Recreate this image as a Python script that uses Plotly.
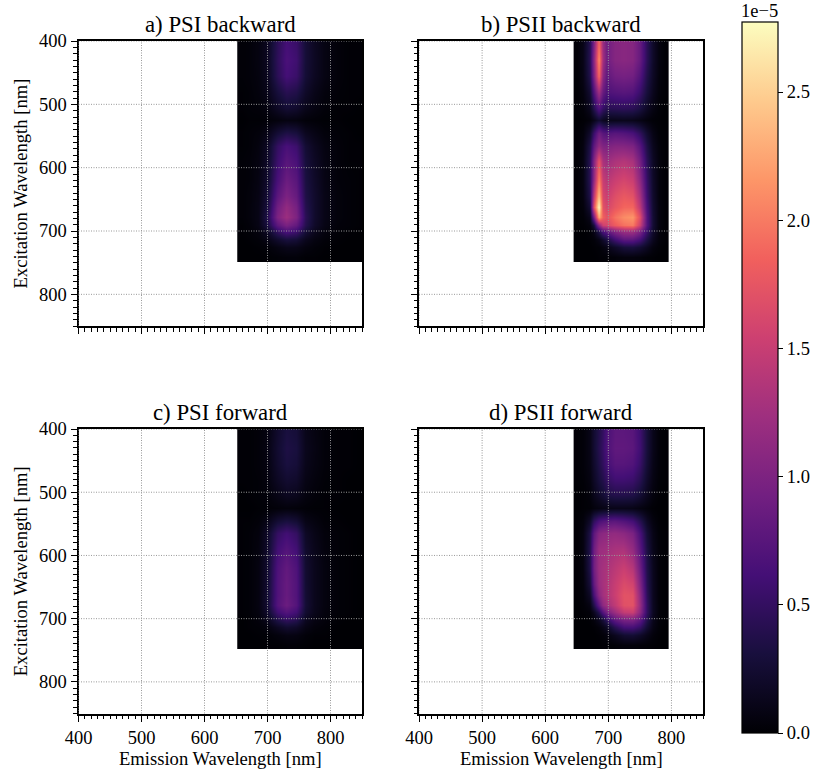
import plotly.graph_objects as go

excitation = [405, 430, 455, 480, 505, 525, 545, 565, 590, 620, 645, 662, 678, 690, 700, 713, 726, 741]
emission_psi = [658, 670, 685, 700, 715, 730, 745, 760, 775, 790, 810, 830, 845]
emission_psii = [650, 660, 670, 677, 684, 691, 698, 710, 725, 738, 750, 760, 770, 780, 790]

psi_backward = [
    [.02, .03, .07, .16, .44, .62, .54, .28, .16, .08, .03, .01, .01],
    [.02, .03, .07, .16, .46, .66, .58, .28, .17, .08, .03, .01, .01],
    [.02, .03, .06, .15, .44, .62, .54, .27, .16, .08, .03, .01, .01],
    [.01, .02, .05, .12, .30, .42, .37, .20, .11, .05, .02, .01, .01],
    [.01, .02, .03, .07, .18, .26, .22, .12, .07, .03, .01, .01, 0],
    [0, .01, .01, .03, .05, .07, .06, .03, .02, .01, .01, 0, 0],
    [.01, .02, .04, .11, .27, .36, .31, .15, .09, .04, .02, .01, 0],
    [.01, .02, .06, .18, .50, .65, .56, .26, .15, .07, .03, .01, .01],
    [.02, .03, .07, .20, .56, .75, .65, .30, .18, .08, .03, .01, .01],
    [.02, .03, .08, .23, .65, .88, .75, .33, .20, .09, .03, .02, .01],
    [.02, .04, .09, .28, .78, 1.0, .84, .36, .22, .10, .04, .02, .01],
    [.02, .04, .10, .32, .92, 1.15, .95, .40, .22, .10, .04, .02, .01],
    [.02, .04, .10, .38, 1.00, 1.22, 1.00, .44, .22, .10, .04, .02, .01],
    [.01, .03, .09, .33, .78, .98, .82, .40, .20, .09, .03, .02, .01],
    [.01, .02, .06, .19, .50, .68, .58, .29, .14, .06, .02, .01, 0],
    [0, .01, .03, .10, .23, .32, .28, .14, .07, .03, .01, 0, 0],
    [0, 0, .01, .03, .08, .12, .11, .06, .03, .01, 0, 0, 0],
    [0, 0, 0, .01, .02, .03, .03, .01, .01, 0, 0, 0, 0],
]

psi_forward = [
    [.01, .01, .03, .07, .22, .32, .28, .12, .07, .03, .01, .01, 0],
    [.01, .01, .03, .08, .24, .35, .31, .13, .08, .03, .01, .01, 0],
    [.01, .01, .03, .07, .22, .32, .28, .12, .07, .03, .01, .01, 0],
    [.01, .01, .02, .06, .17, .24, .21, .09, .05, .02, .01, 0, 0],
    [0, .01, .02, .04, .10, .15, .13, .06, .03, .01, .01, 0, 0],
    [0, 0, .01, .02, .03, .04, .03, .02, .01, .01, 0, 0, 0],
    [.01, .01, .03, .11, .26, .32, .26, .10, .06, .02, .01, 0, 0],
    [.01, .02, .05, .20, .50, .60, .50, .18, .10, .04, .02, .01, 0],
    [.01, .02, .06, .22, .60, .72, .60, .22, .12, .05, .02, .01, 0],
    [.01, .02, .07, .24, .68, .82, .68, .24, .13, .06, .02, .01, 0],
    [.01, .02, .07, .25, .70, .85, .70, .25, .13, .06, .02, .01, 0],
    [.01, .02, .07, .26, .70, .85, .70, .26, .13, .06, .02, .01, 0],
    [.01, .02, .07, .26, .72, .88, .72, .27, .13, .06, .02, .01, 0],
    [.01, .02, .06, .22, .58, .72, .60, .24, .12, .05, .02, .01, 0],
    [0, .01, .04, .14, .38, .50, .42, .16, .08, .04, .01, 0, 0],
    [0, .01, .02, .06, .16, .24, .20, .09, .04, .02, 0, 0, 0],
    [0, 0, .01, .02, .05, .08, .07, .03, .01, .01, 0, 0, 0],
    [0, 0, 0, .01, .01, .02, .02, .01, 0, 0, 0, 0, 0],
]

psii_backward = [
    [.02, .10, .40, 1.00, 1.90, 1.20, .90, 1.05, 1.08, 1.05, .85, .45, .20, .06, .01],
    [.02, .10, .42, 1.10, 2.10, 1.25, .90, 1.05, 1.08, 1.05, .85, .45, .20, .06, .01],
    [.02, .09, .38, 1.00, 1.90, 1.10, .80, .92, .95, .92, .72, .38, .18, .05, .01],
    [.01, .06, .25, .70, 1.25, .85, .68, .72, .75, .72, .55, .30, .14, .04, .01],
    [.01, .03, .14, .40, .72, .52, .42, .44, .46, .44, .34, .18, .08, .02, 0],
    [0, .01, .04, .12, .25, .16, .12, .12, .13, .12, .09, .05, .02, .01, 0],
    [.01, .04, .22, .55, .90, .75, .70, .75, .72, .65, .48, .24, .09, .02, .01],
    [.01, .06, .35, .80, 1.15, 1.02, 1.00, 1.05, 1.05, 1.00, .75, .36, .14, .04, .01],
    [.01, .07, .42, 1.05, 1.75, 1.30, 1.22, 1.32, 1.38, 1.30, .95, .45, .18, .05, .01],
    [.01, .07, .42, 1.15, 2.05, 1.50, 1.40, 1.52, 1.60, 1.52, 1.12, .52, .20, .05, .01],
    [.01, .06, .36, 1.45, 2.40, 1.62, 1.52, 1.68, 1.78, 1.72, 1.30, .58, .22, .05, .01],
    [.01, .04, .25, 1.70, 2.77, 1.72, 1.60, 1.76, 1.88, 1.88, 1.45, .65, .24, .06, .01],
    [.01, .02, .12, .95, 2.30, 1.85, 1.72, 1.95, 2.10, 2.15, 1.70, .72, .26, .06, .01],
    [0, .01, .05, .30, 1.10, 1.55, 1.60, 1.80, 1.95, 2.00, 1.55, .72, .26, .06, .01],
    [0, 0, .02, .10, .38, .68, .80, 1.05, 1.22, 1.25, 1.02, .55, .22, .05, .01],
    [0, 0, .01, .03, .10, .22, .35, .60, .80, .80, .65, .36, .15, .04, .01],
    [0, 0, 0, .01, .02, .06, .10, .20, .30, .32, .26, .16, .06, .02, 0],
    [0, 0, 0, 0, .01, .01, .02, .03, .05, .05, .04, .02, .01, 0, 0],
]

psii_forward = [
    [.01, .03, .10, .25, .38, .50, .66, .78, .78, .75, .58, .30, .12, .03, .01],
    [.01, .03, .10, .25, .40, .52, .68, .80, .80, .77, .60, .30, .12, .03, .01],
    [.01, .03, .09, .22, .36, .48, .62, .74, .74, .70, .54, .27, .10, .03, .01],
    [.01, .02, .07, .18, .30, .38, .50, .58, .58, .55, .42, .21, .08, .02, .01],
    [0, .01, .04, .12, .20, .26, .34, .38, .38, .36, .27, .14, .05, .01, 0],
    [0, .01, .02, .05, .07, .09, .10, .11, .11, .10, .07, .04, .01, 0, 0],
    [.01, .04, .20, .48, .66, .72, .75, .78, .72, .62, .42, .18, .06, .01, 0],
    [.01, .06, .35, .78, 1.05, 1.10, 1.12, 1.15, 1.10, .98, .66, .28, .10, .02, .01],
    [.01, .06, .38, .90, 1.20, 1.22, 1.25, 1.30, 1.32, 1.15, .78, .34, .12, .03, .01],
    [.01, .05, .36, .92, 1.22, 1.28, 1.32, 1.42, 1.52, 1.38, .92, .38, .14, .03, .01],
    [.01, .04, .28, .82, 1.20, 1.28, 1.35, 1.50, 1.65, 1.58, 1.05, .42, .15, .03, .01],
    [.01, .03, .18, .65, 1.10, 1.26, 1.35, 1.52, 1.72, 1.70, 1.15, .46, .15, .03, .01],
    [0, .02, .08, .38, .80, 1.12, 1.25, 1.45, 1.70, 1.72, 1.20, .50, .16, .03, .01],
    [0, .01, .03, .15, .40, .72, .95, 1.22, 1.48, 1.52, 1.12, .50, .16, .03, .01],
    [0, 0, .01, .05, .15, .30, .50, .82, 1.00, 1.02, .82, .40, .13, .03, .01],
    [0, 0, 0, .01, .04, .10, .18, .42, .62, .64, .52, .26, .09, .02, 0],
    [0, 0, 0, 0, .01, .03, .06, .14, .24, .26, .20, .11, .04, .01, 0],
    [0, 0, 0, 0, 0, .01, .01, .02, .04, .04, .03, .02, .01, 0, 0],
]

titles = ["a) PSI backward", "b) PSII backward", "c) PSI forward", "d) PSII forward"]
panels = [(emission_psi, psi_backward), (emission_psii, psii_backward),
          (emission_psi, psi_forward), (emission_psii, psii_forward)]
grid_ticks = [400, 500, 600, 700, 800]
colorbar_ticks = [0.0, 0.5, 1.0, 1.5, 2.0, 2.5]
z_max = 2.773
x_label = "Emission Wavelength [nm]"
y_label = "Excitation Wavelength [nm]"

W, H = 817, 771
FONT = "Liberation Serif"
col_px = [(78.5, 362), (419, 703)]
row_px = [(41, 326), (429, 713.5)]
tick_font = dict(family=FONT, size=18.5, color="black")
label_font = dict(family=FONT, size=18.6, color="black")

fig = go.Figure()
axis_common = dict(automargin=False, showgrid=False, zeroline=False, showline=True, linecolor="black",
                   linewidth=2, mirror=True, ticks="outside", ticklen=6, tickwidth=1.2, tickcolor="black",
                   tickvals=grid_ticks, tickfont=tick_font,
                   minor=dict(ticks="outside", dtick=10, tick0=400, ticklen=3.5, tickwidth=1, tickcolor="black"))

for i, (xs, z) in enumerate(panels):
    r, c = divmod(i, 2)
    n = "" if i == 0 else str(i + 1)
    fig.add_trace(go.Heatmap(x=xs, y=excitation, z=z, coloraxis="coloraxis", zsmooth="best",
                             xaxis="x" + n, yaxis="y" + n))
    xa = dict(axis_common)
    ya = dict(axis_common)
    xa.update(range=[400, 850], domain=[col_px[c][0] / W, col_px[c][1] / W], anchor="y" + n,
              showticklabels=r == 1)
    ya.update(range=[850, 400], domain=[1 - row_px[r][1] / H, 1 - row_px[r][0] / H], anchor="x" + n,
              showticklabels=c == 0)
    fig.update_layout({"xaxis" + n: xa, "yaxis" + n: ya})
    for t in grid_ticks:
        line = dict(color="#999999", width=1, dash="1px,1.5px")
        fig.add_shape(type="line", layer="above", xref="x" + n, yref="y" + n + " domain",
                      x0=t, x1=t, y0=0, y1=1, line=line)
        fig.add_shape(type="line", layer="above", xref="x" + n + " domain", yref="y" + n,
                      x0=0, x1=1, y0=t, y1=t, line=line)
    fig.add_annotation(text=titles[i], xref="paper", yref="paper", showarrow=False,
                       x=sum(col_px[c]) / 2 / W, xanchor="center", y=1 - (row_px[r][0] - 17) / H,
                       yanchor="middle", font=dict(family=FONT, size=22.8, color="black"))
    if r == 1:
        fig.add_annotation(text=x_label, xref="paper", yref="paper", showarrow=False,
                           x=sum(col_px[c]) / 2 / W, xanchor="center", y=1 - 758 / H, yanchor="middle",
                           font=label_font)
    if c == 0:
        fig.add_annotation(text=y_label, xref="paper", yref="paper", showarrow=False, textangle=-90,
                           x=20 / W, y=1 - sum(row_px[r]) / 2 / H, xanchor="center", yanchor="middle",
                           font=label_font)

fig.add_annotation(text="1e\u22125", xref="paper", yref="paper", showarrow=False,
                   x=759 / W, xanchor="center", y=1 - 11 / H, yanchor="middle", font=tick_font)

fig.update_layout(
    width=W, height=H, margin=dict(l=0, r=0, t=0, b=0, autoexpand=False), paper_bgcolor="white",
    plot_bgcolor="white", font=dict(family=FONT, color="black"),
    coloraxis=dict(
        colorscale="Magma", cmin=0, cmax=z_max,
        colorbar=dict(
            thickness=36, thicknessmode="pixels", len=711, lenmode="pixels",
            xref="container", yref="container", x=742 / W, xanchor="left", xpad=0, ypad=0,
            y=1 - 733 / H, yanchor="bottom",
            tickmode="array", tickvals=colorbar_ticks, tickformat=".1f", tickprefix="\u00a0",
            ticks="outside", ticklen=5, tickwidth=1.2, tickcolor="black",
            tickfont=tick_font, outlinecolor="black", outlinewidth=1.2,
        ),
    ),
)

fig.write_html("out.html", config={"displayModeBar": False},
               post_script="document.body.style.margin='0';")
